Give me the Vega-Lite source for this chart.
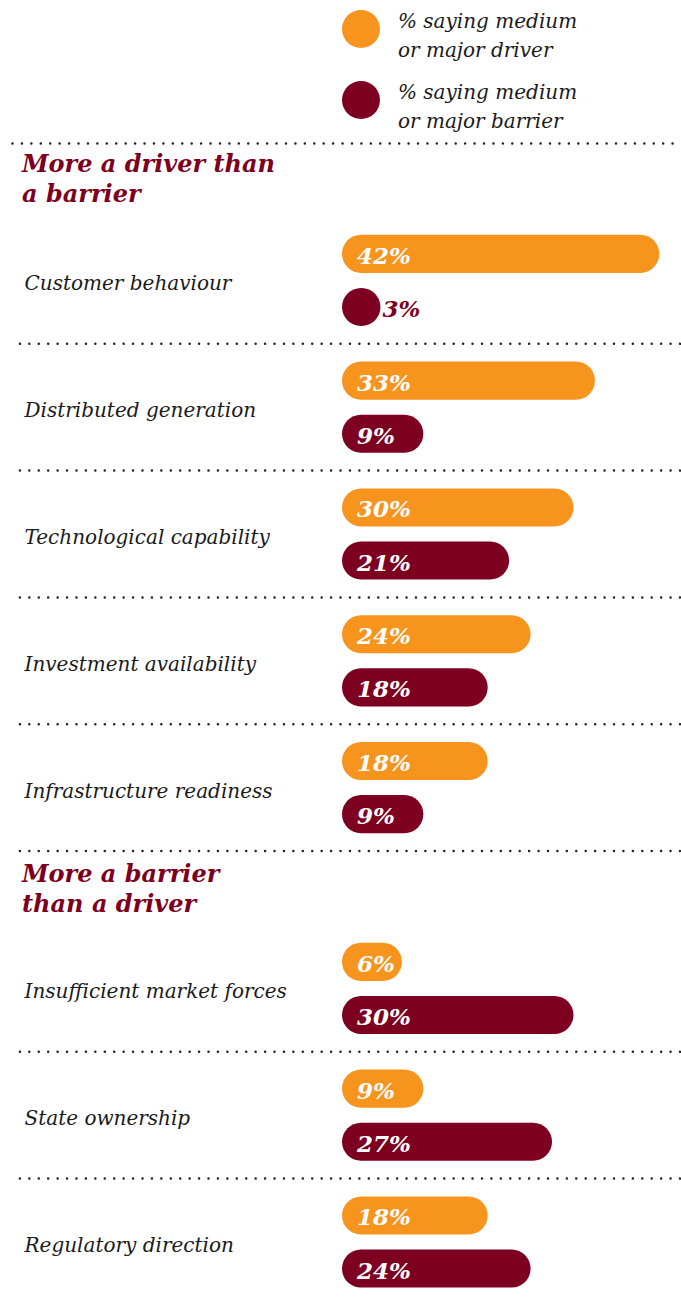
{
  "$schema": "https://vega.github.io/schema/vega-lite/v6.json",
  "background": "white",
  "padding": {"left": 10, "right": 0, "top": 0, "bottom": 0},
  "spacing": 10,
  "config": {"view": {"stroke": null}},
  "datasets": {
    "legend": [
      {"series": "driver", "label": "% saying medium\nor major driver"},
      {"series": "barrier", "label": "% saying medium\nor major barrier"}
    ],
    "factors": [
      {"section": "driver", "category": "Customer behaviour", "series": "driver", "value": 0.42},
      {"section": "driver", "category": "Customer behaviour", "series": "barrier", "value": 0.03},
      {"section": "driver", "category": "Distributed generation", "series": "driver", "value": 0.33},
      {"section": "driver", "category": "Distributed generation", "series": "barrier", "value": 0.09},
      {"section": "driver", "category": "Technological capability", "series": "driver", "value": 0.30},
      {"section": "driver", "category": "Technological capability", "series": "barrier", "value": 0.21},
      {"section": "driver", "category": "Investment availability", "series": "driver", "value": 0.24},
      {"section": "driver", "category": "Investment availability", "series": "barrier", "value": 0.18},
      {"section": "driver", "category": "Infrastructure readiness", "series": "driver", "value": 0.18},
      {"section": "driver", "category": "Infrastructure readiness", "series": "barrier", "value": 0.09},
      {"section": "barrier", "category": "Insufficient market forces", "series": "driver", "value": 0.06},
      {"section": "barrier", "category": "Insufficient market forces", "series": "barrier", "value": 0.30},
      {"section": "barrier", "category": "State ownership", "series": "driver", "value": 0.09},
      {"section": "barrier", "category": "State ownership", "series": "barrier", "value": 0.27},
      {"section": "barrier", "category": "Regulatory direction", "series": "driver", "value": 0.18},
      {"section": "barrier", "category": "Regulatory direction", "series": "barrier", "value": 0.24}
    ]
  },
  "vconcat": [
    {
      "data": {"name": "legend"},
      "width": 668,
      "height": 129,
      "encoding": {
        "x": {
          "datum": 0,
          "type": "quantitative",
          "scale": {"domain": [-0.46154, 0.47273], "nice": false, "zero": false},
          "axis": {
            "orient": "bottom", "offset": 14, "title": null, "labels": false, "ticks": false, "grid": false,
            "domainDash": [0, 9.43], "domainCap": "round", "domainWidth": 2.5, "domainColor": "#231f20"
          }
        },
        "y": {
          "field": "series", "type": "nominal", "sort": ["driver", "barrier"],
          "scale": {"type": "point", "padding": 0.4085}, "axis": null
        }
      },
      "layer": [
        {
          "mark": {"type": "circle", "size": 1444, "opacity": 1, "xOffset": 19},
          "encoding": {
            "color": {
              "field": "series", "type": "nominal",
              "scale": {"domain": ["driver", "barrier"], "range": ["#F7941E", "#7D0020"]},
              "legend": null
            }
          }
        },
        {
          "mark": {
            "type": "text", "align": "left", "baseline": "alphabetic", "dx": 56, "dy": -1,
            "lineBreak": "\n", "lineHeight": 29,
            "font": "DejaVu Serif", "fontStyle": "italic", "fontSize": 20, "color": "#1a1a1a"
          },
          "encoding": {"text": {"field": "label", "type": "nominal"}}
        }
      ]
    },
    {
      "data": {"name": "factors"},
      "transform": [{"filter": "datum.section == 'driver'"}],
      "title": {
        "text": ["More a driver than", "a barrier"],
        "anchor": "start", "frame": "group", "dx": 10, "offset": 10,
        "font": "DejaVu Serif", "fontStyle": "italic", "fontWeight": "bold",
        "fontSize": 24, "lineHeight": 30, "color": "#7D0020"
      },
      "width": 668,
      "height": 634,
      "encoding": {
        "y": {
          "field": "category", "type": "nominal",
          "sort": ["Customer behaviour", "Distributed generation", "Technological capability", "Investment availability", "Infrastructure readiness"],
          "scale": {"paddingInner": 0, "paddingOuter": 0},
          "axis": {
            "title": null, "domain": false, "ticks": false, "tickSize": 0, "grid": false,
            "labelAlign": "left", "labelBaseline": "middle", "labelPadding": -12, "labelOffset": 4,
            "labelFont": "DejaVu Serif", "labelFontStyle": "italic", "labelFontSize": 20,
            "labelColor": "#1a1a1a", "labelLimit": 0
          }
        }
      },
      "layer": [
        {
          "transform": [{"filter": "datum.series == 'driver'"}],
          "mark": {"type": "rule", "strokeDash": [0, 9.43], "strokeCap": "round", "strokeWidth": 2.5, "color": "#231f20"},
          "encoding": {
            "y": {
              "field": "category", "type": "nominal", "bandPosition": 1,
              "sort": ["Customer behaviour", "Distributed generation", "Technological capability", "Investment availability", "Infrastructure readiness"]
            }
          }
        },
        {
          "encoding": {
            "yOffset": {
              "field": "series", "type": "nominal", "sort": ["driver", "barrier"],
              "scale": {"paddingInner": 0.283, "paddingOuter": 0.335}
            }
          },
          "layer": [
            {
              "mark": {"type": "bar", "cornerRadius": 19, "xOffset": 17},
              "encoding": {
                "x": {
                  "field": "value", "type": "quantitative",
                  "scale": {"domain": [-0.46154, 0.47273], "nice": false, "zero": false},
                  "axis": null
                },
                "x2": {"datum": 0},
                "color": {
                  "field": "series", "type": "nominal",
                  "scale": {"domain": ["driver", "barrier"], "range": ["#F7941E", "#7D0020"]},
                  "legend": null
                }
              }
            },
            {
              "transform": [{"filter": "datum.value >= 0.05"}],
              "mark": {
                "type": "text", "align": "left", "baseline": "middle", "dx": 15, "dy": 3,
                "font": "DejaVu Serif", "fontStyle": "italic", "fontWeight": "bold", "fontSize": 23, "color": "white"
              },
              "encoding": {
                "x": {"datum": 0, "type": "quantitative", "axis": null},
                "text": {"field": "value", "type": "quantitative", "format": ".0%"}
              }
            },
            {
              "transform": [{"filter": "datum.value < 0.05"}],
              "mark": {
                "type": "text", "align": "left", "baseline": "middle", "dx": 19, "dy": 3,
                "font": "DejaVu Serif", "fontStyle": "italic", "fontWeight": "bold", "fontSize": 23, "color": "#7D0020"
              },
              "encoding": {
                "x": {"field": "value", "type": "quantitative", "axis": null},
                "text": {"field": "value", "type": "quantitative", "format": ".0%"}
              }
            }
          ]
        }
      ]
    },
    {
      "data": {"name": "factors"},
      "transform": [{"filter": "datum.section == 'barrier'"}],
      "title": {
        "text": ["More a barrier", "than a driver"],
        "anchor": "start", "frame": "group", "dx": 10, "offset": 8,
        "font": "DejaVu Serif", "fontStyle": "italic", "fontWeight": "bold",
        "fontSize": 24, "lineHeight": 30, "color": "#7D0020"
      },
      "width": 668,
      "height": 374.8,
      "encoding": {
        "y": {
          "field": "category", "type": "nominal",
          "sort": ["Insufficient market forces", "State ownership", "Regulatory direction"],
          "scale": {"range": [0, 380.4], "paddingInner": 0, "paddingOuter": 0},
          "axis": {
            "title": null, "domain": false, "ticks": false, "tickSize": 0, "grid": false,
            "labelAlign": "left", "labelBaseline": "middle", "labelPadding": -12, "labelOffset": 4,
            "labelFont": "DejaVu Serif", "labelFontStyle": "italic", "labelFontSize": 20,
            "labelColor": "#1a1a1a", "labelLimit": 0
          }
        }
      },
      "layer": [
        {
          "transform": [{"filter": "datum.series == 'driver' && datum.category != 'Regulatory direction'"}],
          "mark": {"type": "rule", "strokeDash": [0, 9.43], "strokeCap": "round", "strokeWidth": 2.5, "color": "#231f20"},
          "encoding": {
            "y": {
              "field": "category", "type": "nominal", "bandPosition": 1,
              "sort": ["Insufficient market forces", "State ownership", "Regulatory direction"]
            }
          }
        },
        {
          "encoding": {
            "yOffset": {
              "field": "series", "type": "nominal", "sort": ["driver", "barrier"],
              "scale": {"paddingInner": 0.283, "paddingOuter": 0.335}
            }
          },
          "layer": [
            {
              "mark": {"type": "bar", "cornerRadius": 19, "xOffset": 17},
              "encoding": {
                "x": {
                  "field": "value", "type": "quantitative",
                  "scale": {"domain": [-0.46154, 0.47273], "nice": false, "zero": false},
                  "axis": null
                },
                "x2": {"datum": 0},
                "color": {
                  "field": "series", "type": "nominal",
                  "scale": {"domain": ["driver", "barrier"], "range": ["#F7941E", "#7D0020"]},
                  "legend": null
                }
              }
            },
            {
              "transform": [{"filter": "datum.value >= 0.05"}],
              "mark": {
                "type": "text", "align": "left", "baseline": "middle", "dx": 15, "dy": 3,
                "font": "DejaVu Serif", "fontStyle": "italic", "fontWeight": "bold", "fontSize": 23, "color": "white"
              },
              "encoding": {
                "x": {"datum": 0, "type": "quantitative", "axis": null},
                "text": {"field": "value", "type": "quantitative", "format": ".0%"}
              }
            },
            {
              "transform": [{"filter": "datum.value < 0.05"}],
              "mark": {
                "type": "text", "align": "left", "baseline": "middle", "dx": 19, "dy": 3,
                "font": "DejaVu Serif", "fontStyle": "italic", "fontWeight": "bold", "fontSize": 23, "color": "#7D0020"
              },
              "encoding": {
                "x": {"field": "value", "type": "quantitative", "axis": null},
                "text": {"field": "value", "type": "quantitative", "format": ".0%"}
              }
            }
          ]
        }
      ]
    }
  ]
}
